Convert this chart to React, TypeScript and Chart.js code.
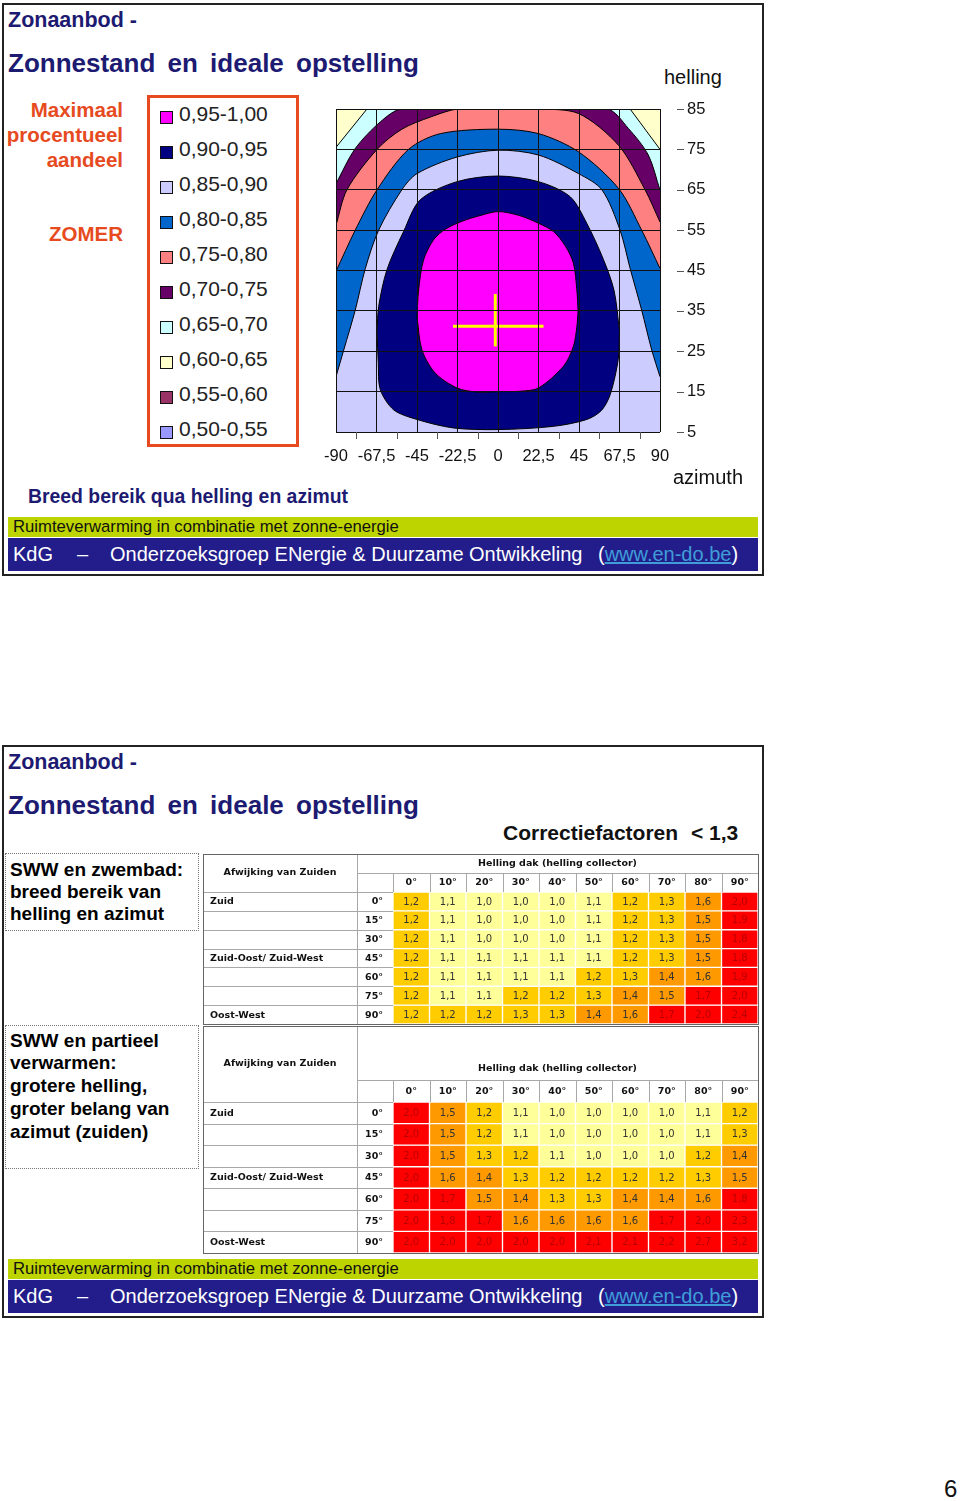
import React, { useEffect, useRef } from 'react';
import { Chart, registerables } from 'chart.js';

Chart.register(...registerables);

const ARIAL = '"Liberation Sans", Arial, Helvetica, sans-serif';
const VERDANA = '"DejaVu Sans", Verdana, sans-serif';

/* ---------------- data: contour chart (azimuth °, helling °) ---------------- */
const legendRanges = ['0,95-1,00', '0,90-0,95', '0,85-0,90', '0,80-0,85', '0,75-0,80', '0,70-0,75', '0,65-0,70', '0,60-0,65', '0,55-0,60', '0,50-0,55'];

const fullSpan = [[-90, 85], [90, 85]];
const edge065 = [[-90, 75.5], [-72.8, 85], [73.4, 85], [90, 75]];
const edge070 = [[-90, 66.5], [-79.3, 75.2], [-65.4, 81.8], [-53.4, 85], [60.4, 85], [72.4, 80.2], [83.5, 73.6], [90, 64.9]];
const edge075 = [[-90, 56.2], [-83.9, 65], [-67.2, 75], [-53.4, 80], [-37.6, 83], [-21.9, 85], [22.5, 85], [44.7, 83.9], [67, 76], [81.7, 65], [90, 57]];
const edge080 = [[-90, 44.8], [-79.3, 55], [-67.2, 65], [-49.7, 75], [-32, 78.9], [0, 80], [22.5, 78.9], [44.7, 74.4], [67, 65.3], [79.8, 55], [90, 45.5]];
const edge085 = [[-90, 18.7], [-85.7, 25.3], [-79.3, 35.2], [-73.7, 45.5], [-66.3, 55], [-53.4, 65], [-45, 69], [-22.8, 73.1], [0, 74.8], [22.5, 73.6], [44.7, 69], [57.7, 65], [67.8, 55], [73.4, 45.5], [79.8, 35.2], [85.4, 25.3], [90, 18.7]];
const edge090Upper = [[-67.2, 30], [-66.3, 36.1], [-61.7, 45.2], [-52.4, 54.7], [-43.2, 62.5], [-22.8, 67], [0, 68.4], [22.5, 67], [40, 63.3], [49.3, 56.7], [58.6, 47.7], [64.5, 40], [67.5, 30]];
const edge090Lower = [[-67.2, 30], [-66.5, 22], [-65.4, 15.5], [-58, 10.5], [-45, 8.1], [-24.7, 6], [0, 5.6], [30.8, 6.4], [49.3, 8.1], [57.6, 10.4], [62.5, 14.5], [66.8, 23], [67.5, 30]];
const edge095Upper = [[-45, 33.6], [-44.1, 40.2], [-41.3, 47.7], [-35.5, 52.8], [-29, 55.3], [-20, 57.2], [-10, 58.6], [0, 59.6], [12, 58.6], [22.5, 56.7], [31, 54.6], [37.5, 51], [41.9, 46.8], [43.8, 40.2], [44.5, 35]];
const edge095Lower = [[-45, 33.6], [-42.3, 25.4], [-34.9, 19.6], [-22.8, 15.9], [-11.7, 14.9], [0, 15], [12.3, 15.1], [22.5, 15.9], [36.4, 21.3], [41.9, 26.2], [43.8, 31], [44.5, 35]];
const crossVertical = [[-1.5, 26.2], [-1.5, 39.2]];
const crossHorizontal = [[-25, 31.2], [25.3, 31.2]];

/* ---------------- data: correction factor tables ---------------- */
const inclinations = ['0°', '10°', '20°', '30°', '40°', '50°', '60°', '70°', '80°', '90°'];
const azimuthRows = ['0°', '15°', '30°', '45°', '60°', '75°', '90°'];
const directionLabels = ['Zuid', '', '', 'Zuid-Oost/ Zuid-West', '', '', 'Oost-West'];
const zwembadFactors = [
  [1.2, 1.1, 1.0, 1.0, 1.0, 1.1, 1.2, 1.3, 1.6, 2.0],
  [1.2, 1.1, 1.0, 1.0, 1.0, 1.1, 1.2, 1.3, 1.5, 1.9],
  [1.2, 1.1, 1.0, 1.0, 1.0, 1.1, 1.2, 1.3, 1.5, 1.8],
  [1.2, 1.1, 1.1, 1.1, 1.1, 1.1, 1.2, 1.3, 1.5, 1.8],
  [1.2, 1.1, 1.1, 1.1, 1.1, 1.2, 1.3, 1.4, 1.6, 1.9],
  [1.2, 1.1, 1.1, 1.2, 1.2, 1.3, 1.4, 1.5, 1.7, 2.0],
  [1.2, 1.2, 1.2, 1.3, 1.3, 1.4, 1.6, 1.7, 2.0, 2.4],
];
const verwarmenFactors = [
  [2.0, 1.5, 1.2, 1.1, 1.0, 1.0, 1.0, 1.0, 1.1, 1.2],
  [2.0, 1.5, 1.2, 1.1, 1.0, 1.0, 1.0, 1.0, 1.1, 1.3],
  [2.0, 1.5, 1.3, 1.2, 1.1, 1.0, 1.0, 1.0, 1.2, 1.4],
  [2.0, 1.6, 1.4, 1.3, 1.2, 1.2, 1.2, 1.2, 1.3, 1.5],
  [2.0, 1.7, 1.5, 1.4, 1.3, 1.3, 1.4, 1.4, 1.6, 1.8],
  [2.0, 1.8, 1.7, 1.6, 1.6, 1.6, 1.6, 1.7, 2.0, 2.3],
  [2.0, 2.0, 2.0, 2.0, 2.0, 2.1, 2.1, 2.2, 2.7, 3.2],
];

/* ---------------- styles ---------------- */
const LEGEND_COLOURS = ['#ff00ff', '#000080', '#ccccff', '#0066cc', '#ff8080', '#660066', '#ccffff', '#ffffcc', '#993366', '#9999ff'];
const BAND = {
  magenta: '#ff00ff', navy: '#000080', lavender: '#ccccff', blue: '#0066cc',
  salmon: '#ff8080', purple: '#660066', cyan: '#ccffff', yellow: '#ffffcc',
};
const TITLE_BLUE = '#1d1a72';
const ACCENT = '#e64a1e';

function cellColour(v: number) {
  if (v <= 1.15) return '#ffff99';
  if (v <= 1.35) return '#ffcc00';
  if (v <= 1.65) return '#ff9900';
  return '#ff0000';
}
function cellText(v: number) {
  return v > 1.65 ? '#b80000' : '#333333';
}

/* ---------------- contour chart ---------------- */
function ContourChart() {
  const ref = useRef<HTMLCanvasElement>(null);
  useEffect(() => {
    const pts = (list: number[][]) => list.map(([x, y]) => ({ x, y }));
    const band = (list: number[][], colour: string, fill: any, order: number, tension = 0.3) => ({
      data: pts(list), backgroundColor: colour, borderColor: '#000', borderWidth: 1,
      fill, order, tension, pointRadius: 0, pointHoverRadius: 0,
    });
    const datasets: any[] = [
      { ...band(fullSpan, BAND.yellow, 'start', 20, 0), borderColor: 'rgba(0,0,0,0)' },
      band(edge065, BAND.cyan, 'start', 19, 0),
      band(edge070, BAND.purple, 'start', 18),
      band(edge075, BAND.salmon, 'start', 17),
      band(edge080, BAND.blue, 'start', 16),
      band(edge085, BAND.lavender, 'start', 15),
      band(edge090Upper, BAND.navy, 7, 14),
      band(edge090Lower, BAND.navy, false, 13),
      band(edge095Upper, BAND.magenta, 9, 12),
      band(edge095Lower, BAND.magenta, false, 11),
      { data: pts(crossVertical), borderColor: '#ffff00', borderWidth: 3, fill: false, order: 1, tension: 0, pointRadius: 0 },
      { data: pts(crossHorizontal), borderColor: '#ffff00', borderWidth: 3, fill: false, order: 1, tension: 0, pointRadius: 0 },
    ];
    const tickMarks = {
      id: 'tickMarks',
      afterDraw(chart: any) {
        const { ctx, chartArea: a } = chart;
        const x = chart.scales.x;
        const y = chart.scales.y;
        ctx.save();
        ctx.strokeStyle = '#555';
        ctx.lineWidth = 1;
        ctx.beginPath();
        y.ticks.forEach((t: any) => {
          const py = Math.round(y.getPixelForValue(t.value)) + 0.5;
          ctx.moveTo(a.right + 17, py);
          ctx.lineTo(a.right + 24, py);
        });
        for (let i = 0; i < x.ticks.length - 1; i++) {
          const mid = (x.ticks[i].value + x.ticks[i + 1].value) / 2;
          const px = Math.round(x.getPixelForValue(mid)) + 0.5;
          ctx.moveTo(px, a.bottom);
          ctx.lineTo(px, a.bottom + 7);
        }
        ctx.stroke();
        ctx.restore();
      },
    };
    const chart = new Chart(ref.current!, {
      type: 'line',
      data: { datasets },
      options: {
        responsive: false, maintainAspectRatio: false, animation: false, devicePixelRatio: 1, events: [],
        layout: { padding: { left: 20, top: 12, right: 0, bottom: 0 } },
        plugins: { legend: { display: false }, tooltip: { enabled: false }, filler: { propagate: false } },
        scales: {
          x: {
            type: 'linear', min: -90, max: 90, position: 'bottom',
            ticks: {
              stepSize: 22.5, autoSkip: false, maxRotation: 0, padding: 0, color: '#111',
              font: { family: ARIAL, size: 16.5 },
              callback: (v: any) => String(v).replace('.', ','),
            },
            grid: { color: '#111', lineWidth: 1, drawTicks: true, tickLength: 15, tickColor: 'rgba(0,0,0,0)', z: 1 },
            border: { display: false },
            afterFit: (s: any) => { s.height = 35; },
          },
          y: {
            type: 'linear', min: 5, max: 85, position: 'right',
            ticks: { stepSize: 10, padding: 0, color: '#111', font: { family: ARIAL, size: 16.5 } },
            grid: { color: '#111', lineWidth: 1, drawTicks: true, tickLength: 27, tickColor: 'rgba(0,0,0,0)', z: 1 },
            border: { display: false },
            afterFit: (s: any) => { s.width = 60; },
          },
        },
      } as any,
      plugins: [tickMarks],
    });
    return () => chart.destroy();
  }, []);
  return <canvas ref={ref} width={404} height={370} style={{ position: 'absolute', left: 316, top: 97, width: 404, height: 370 }} />;
}

/* ---------------- factor tables ---------------- */
type TableLayout = { top: number; height: number; headerHeight: number; splitY: number; leftTitleY: number; topTitleY: number };

function FactorTable({ values, layout }: { values: number[][]; layout: TableLayout }) {
  const ref = useRef<HTMLCanvasElement>(null);
  useEffect(() => {
    const labelEdge = 154;
    const p = (v: number) => Math.round(v) + 0.5;
    const frame = {
      id: 'tableFrame',
      beforeDatasetsDraw(chart: any) {
        const { ctx, chartArea: a } = chart;
        const x = chart.scales.x;
        const y = chart.scales.y;
        const colW = x.getPixelForValue(1) - x.getPixelForValue(0);
        ctx.save();
        ctx.lineWidth = 1;
        ctx.strokeStyle = '#a8a8a8';
        ctx.beginPath();
        ctx.moveTo(labelEdge, p(layout.splitY)); ctx.lineTo(a.right, p(layout.splitY));
        ctx.moveTo(0, p(a.top)); ctx.lineTo(a.right, p(a.top));
        for (let i = 1; i < inclinations.length; i++) {
          const xx = p(x.getPixelForValue(i) - colW / 2);
          ctx.moveTo(xx, layout.splitY); ctx.lineTo(xx, a.top);
        }
        for (let r = 1; r < values.length; r++) {
          const yy = p(y.getPixelForValue(r));
          ctx.moveTo(0, yy); ctx.lineTo(a.left, yy);
        }
        ctx.moveTo(p(labelEdge), 0); ctx.lineTo(p(labelEdge), a.bottom);
        ctx.moveTo(p(a.left), layout.splitY); ctx.lineTo(p(a.left), a.bottom);
        ctx.stroke();
        ctx.strokeStyle = '#666';
        ctx.strokeRect(0.5, 0.5, a.right, a.bottom);
        ctx.restore();
      },
      afterDatasetsDraw(chart: any) {
        const { ctx, chartArea: a } = chart;
        const x = chart.scales.x;
        const y = chart.scales.y;
        ctx.save();
        ctx.textBaseline = 'middle';
        ctx.fillStyle = '#111';
        ctx.font = `bold 9.5px ${VERDANA}`;
        ctx.textAlign = 'center';
        ctx.fillText('Afwijking van Zuiden', labelEdge / 2, layout.leftTitleY);
        ctx.fillText('Helling dak (helling collector)', (labelEdge + a.right) / 2, layout.topTitleY);
        inclinations.forEach((lab, i) => ctx.fillText(lab, x.getPixelForValue(i), (layout.splitY + a.top) / 2 + 0.5));
        azimuthRows.forEach((lab, r) => {
          const yy = y.getPixelForValue(r + 0.5) + 0.5;
          ctx.textAlign = 'right';
          ctx.fillText(lab, 180, yy);
          if (directionLabels[r]) {
            ctx.textAlign = 'left';
            ctx.fillText(directionLabels[r], 7, yy);
          }
        });
        ctx.font = `10px ${VERDANA}`;
        ctx.textAlign = 'center';
        values.forEach((row, r) => {
          const meta = chart.getDatasetMeta(r);
          meta.data.forEach((el: any, i: number) => {
            const v = row[i];
            ctx.fillStyle = cellText(v);
            ctx.fillText(v.toFixed(1).replace('.', ','), el.x, (el.y + el.base) / 2 + 0.5);
          });
        });
        ctx.restore();
      },
    };
    const chart = new Chart(ref.current!, {
      type: 'bar',
      data: {
        labels: inclinations,
        datasets: values.map((row, r) => ({
          label: azimuthRows[r],
          data: row.map(() => [r, r + 1]),
          backgroundColor: row.map(cellColour),
          borderColor: '#ffffff', borderWidth: 1, borderSkipped: false,
          grouped: false, barPercentage: 1, categoryPercentage: 1,
        })),
      } as any,
      options: {
        responsive: false, maintainAspectRatio: false, animation: false, devicePixelRatio: 1, events: [],
        layout: { padding: { left: 0, top: 0, right: 1, bottom: 1 } },
        plugins: { legend: { display: false }, tooltip: { enabled: false } },
        scales: {
          x: {
            type: 'category', position: 'top', offset: true,
            ticks: { display: false }, grid: { display: false, drawTicks: false }, border: { display: false },
            afterFit: (s: any) => { s.height = layout.headerHeight; },
          },
          y: {
            type: 'linear', min: 0, max: 7, reverse: true,
            ticks: { display: false }, grid: { display: false, drawTicks: false }, border: { display: false },
            afterFit: (s: any) => { s.width = 190; },
          },
        },
      } as any,
      plugins: [frame],
    });
    return () => chart.destroy();
  }, [values, layout]);
  return <canvas ref={ref} width={556} height={layout.height} style={{ position: 'absolute', left: 203, top: layout.top, width: 556, height: layout.height }} />;
}

const TABLE1: TableLayout = { top: 854, height: 171, headerHeight: 38, splitY: 19, leftTitleY: 19, topTitleY: 9.5 };
const TABLE2: TableLayout = { top: 1026, height: 228, headerHeight: 76, splitY: 54, leftTitleY: 37.5, topTitleY: 42.5 };

/* ---------------- text helpers ---------------- */
function Txt({ x, y, size, weight = 400, color = '#111', align = 'left', children, style = {} }: any) {
  const pos: any = align === 'right' ? { right: 960 - x, textAlign: 'right' } : { left: x };
  return (
    <div style={{
      position: 'absolute', top: y - size * 0.6, fontSize: size, lineHeight: `${size * 1.2}px`,
      fontWeight: weight, color, whiteSpace: 'nowrap', fontFamily: ARIAL, ...pos, ...style,
    }}>{children}</div>
  );
}

function SlideFrame({ top }: { top: number }) {
  return <div style={{ position: 'absolute', left: 2, top, width: 762, height: 573, border: '2px solid #222', boxSizing: 'border-box' }} />;
}

function Titles({ dy }: { dy: number }) {
  return (
    <>
      <Txt x={8} y={21 + dy} size={21.5} weight={700} color={TITLE_BLUE}>Zonaanbod -</Txt>
      <Txt x={8} y={64 + dy} size={26} weight={700} color={TITLE_BLUE} style={{ wordSpacing: 5 }}>Zonnestand en ideale opstelling</Txt>
    </>
  );
}

function Footer({ dy }: { dy: number }) {
  return (
    <>
      <div style={{ position: 'absolute', left: 8, top: 517 + dy, width: 750, height: 20, background: '#bed400' }} />
      <Txt x={13} y={527 + dy} size={16.7} color="#111">Ruimteverwarming in combinatie met zonne-energie</Txt>
      <div style={{ position: 'absolute', left: 8, top: 538 + dy, width: 750, height: 33, background: '#221d8a' }} />
      <Txt x={13} y={554 + dy} size={20} color="#fff">KdG</Txt>
      <Txt x={77} y={554 + dy} size={20} color="#fff">–</Txt>
      <Txt x={110} y={554 + dy} size={20} color="#fff">Onderzoeksgroep ENergie &amp; Duurzame Ontwikkeling</Txt>
      <Txt x={598} y={554 + dy} size={20} color="#fff">(<span style={{ color: '#3f9dd8', textDecoration: 'underline' }}>www.en-do.be</span>)</Txt>
    </>
  );
}

function Legend() {
  return (
    <>
      <div style={{ position: 'absolute', left: 147, top: 95, width: 152, height: 352, border: `3px solid ${ACCENT}`, boxSizing: 'border-box' }} />
      {legendRanges.map((lab, i) => {
        const cy = 114 + 35 * i;
        return (
          <React.Fragment key={lab}>
            <div style={{ position: 'absolute', left: 160, top: cy - 3, width: 13, height: 13, background: LEGEND_COLOURS[i], border: '1px solid #111', boxSizing: 'border-box' }} />
            <Txt x={179} y={cy} size={21} color="#222">{lab}</Txt>
          </React.Fragment>
        );
      })}
    </>
  );
}

export default function App() {
  const boxText = { color: '#000' };
  return (
    <div style={{ position: 'absolute', left: 0, top: 0, width: 960, height: 1501, background: '#fff', overflow: 'hidden', fontFamily: ARIAL }}>
      {/* ---------- slide 1 ---------- */}
      <SlideFrame top={3} />
      <Titles dy={0} />
      <Txt x={123} y={110} size={20.5} weight={700} color={ACCENT} align="right">Maximaal</Txt>
      <Txt x={123} y={135} size={20.5} weight={700} color={ACCENT} align="right">procentueel</Txt>
      <Txt x={123} y={160} size={20.5} weight={700} color={ACCENT} align="right">aandeel</Txt>
      <Txt x={123} y={234} size={20.5} weight={700} color={ACCENT} align="right">ZOMER</Txt>
      <Legend />
      <Txt x={664} y={77} size={20} color="#111">helling</Txt>
      <ContourChart />
      <Txt x={673} y={477} size={20} color="#111">azimuth</Txt>
      <Txt x={28} y={497} size={19.4} weight={700} color={TITLE_BLUE}>Breed bereik qua helling en azimut</Txt>
      <Footer dy={0} />

      {/* ---------- slide 2 ---------- */}
      <SlideFrame top={745} />
      <Titles dy={742} />
      <Txt x={503} y={833} size={21} weight={700} color="#111">Correctiefactoren</Txt>
      <Txt x={691} y={833} size={21} weight={700} color="#111">&lt; 1,3</Txt>

      <div style={{ position: 'absolute', left: 5, top: 853, width: 194, height: 78, border: '1px dotted #777', boxSizing: 'border-box' }} />
      <Txt x={10} y={870} size={19} weight={700} style={boxText}>SWW en zwembad:</Txt>
      <Txt x={10} y={892} size={19} weight={700} style={boxText}>breed bereik van</Txt>
      <Txt x={10} y={914} size={19} weight={700} style={boxText}>helling en azimut</Txt>

      <div style={{ position: 'absolute', left: 5, top: 1025, width: 194, height: 144, border: '1px dotted #777', boxSizing: 'border-box' }} />
      <Txt x={10} y={1041} size={19} weight={700} style={boxText}>SWW en partieel</Txt>
      <Txt x={10} y={1063} size={19} weight={700} style={boxText}>verwarmen:</Txt>
      <Txt x={10} y={1086} size={19} weight={700} style={boxText}>grotere helling,</Txt>
      <Txt x={10} y={1109} size={19} weight={700} style={boxText}>groter belang van</Txt>
      <Txt x={10} y={1132} size={19} weight={700} style={boxText}>azimut (zuiden)</Txt>

      <FactorTable values={zwembadFactors} layout={TABLE1} />
      <FactorTable values={verwarmenFactors} layout={TABLE2} />
      <Footer dy={742} />

      <Txt x={944} y={1489} size={24} color="#111">6</Txt>
    </div>
  );
}
